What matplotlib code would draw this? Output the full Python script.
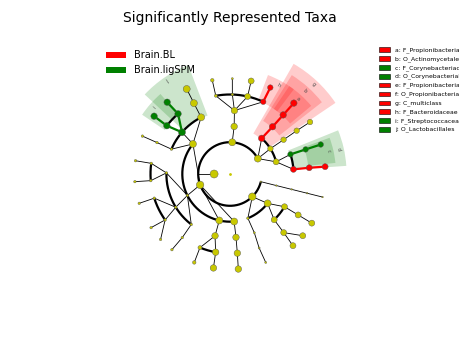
import numpy as np
import matplotlib
matplotlib.use('Agg')
import matplotlib.pyplot as plt
from matplotlib.patches import Rectangle

# cladogram nodes: parent index, taxonomic level, angle (deg), abundance (log scale), class enriched
parent = [-1,
          0, 0, 0, 0, 0,
          1, 1, 1, 2, 3, 3, 3, 3, 4, 4, 5,
          6, 6, 7, 8, 9, 10, 10, 10, 11, 11, 11, 12, 13, 14, 15, 15, 16,
          17, 18, 19, 20, 21, 21, 21, 21, 22, 23, 23, 24, 25, 25, 26, 26, 27, 28, 28, 29, 30, 31, 32, 33,
          34, 35, 36, 37, 38, 39, 40, 41, 42, 43, 44, 45, 46, 47, 48, 49, 49, 50, 51, 52, 53, 54, 55, 55, 56, 57]
level = [1] + [2] * 5 + [3] * 11 + [4] * 17 + [5] * 24 + [6] * 26
theta = [180,
         29, 86, 200, 314.5, 346,
         14.8, 32.1, 48.4, 85, 141, 206.7, 257, 275, 292, 322, 346,
         4.2, 18, 32.6, 48, 86, 117, 139, 157, 179, 211.5, 232.5, 256.4, 275.4, 292.5, 314, 329, 346,
         4.5, 18, 33, 48, 100.3, 88.3, 77.2, 65.3, 117, 130.8, 142.6, 156.7, 172.3, 184.8, 197.7, 215.3,
         233.1, 247.8, 259.6, 275.3, 291.5, 312.5, 329, 346,
         4.4, 18, 33, 48, 100.7, 88.6, 77.2, 65, 117, 131.2, 142.7, 156.6, 172, 184.6, 197.9, 214.2,
         223.3, 232.5, 248, 260, 275, 292, 311.3, 319.7, 329, 346]
abund = [8,
         7, 7, 7.5, 7.5, 1.5,
         6, 5.5, 6.5, 6.5, 7, 2.5, 7, 7, 2.5, 7, 1.5,
         6, 5.5, 5.5, 6.5, 6.5, 7, 7, 2.5, 2.5, 2.5, 2.5, 6.5, 6.5, 2, 6, 6, 1.5,
         6, 5.5, 5.5, 6.5, 3, 2.5, 6, 5.5, 7, 6.5, 6.5, 2.5, 2.5, 2.5, 2.5, 2.5, 2.5, 4, 6.5, 6.5, 2, 6, 6, 1.5,
         6, 5.5, 5.5, 6.5, 3.5, 2, 6, 5.5, 7, 6.5, 6.5, 2.5, 2.5, 2.5, 2.5, 2.5, 2.5, 2.5, 3.5, 6.5, 6.5, 2,
         6, 6, 6, 1.5]
enriched = {8: 'BL', 17: 'BL', 18: 'SPM', 20: 'BL', 23: 'SPM', 34: 'BL', 35: 'SPM', 37: 'BL',
            41: 'BL', 44: 'SPM'}

# biomarker legend (letter, clade node, name as visible) and shaded sector spans (deg)
marker_letters = ['a', 'b', 'c', 'd', 'e', 'f', 'g', 'h', 'i', 'j']
marker_nodes = [37, 20, 35, 18, 34, 17, 8, 41, 44, 23]
marker_names = ['F_Propionibacteria', 'O_Actinomycetale', 'F_Corynebacteriac',
                'O_Corynebacterial', 'F_Propionibacteria', 'O_Propionibacterial',
                'C_multiclass', 'F_Bacteroidaceae', 'F_Streptococcacea', 'O_Lactobacillales']
sector_lo = [40, 38, 6, 4, 0, 0, 34, 53, 131, 111]
sector_hi = [56, 58, 20, 22, 0, 0, 60, 69, 146, 137]

groups = ['Brain.BL', 'Brain.ligSPM']
group_colors = {'BL': '#ff0000', 'SPM': '#008000'}

STEP = 15.9
R = 140.0

fig = plt.figure(figsize=(4.6, 3.45), dpi=100)
cx, cy = 230, 345 - 174
ax = fig.add_axes([(cx - R) / 460, (cy - R) / 345, 2 * R / 460, 2 * R / 345], projection='polar')
ax.set_ylim(0, R)
ax.set_axis_off()

n = len(parent)
th = np.radians(theta)
rad = np.array(level) * STEP

# colour of every node: inherited from enriched ancestor
node_col = [None] * n
for i in range(n):
    if i in enriched:
        node_col[i] = group_colors[enriched[i]]
    elif parent[i] >= 0 and node_col[parent[i]] is not None:
        node_col[i] = node_col[parent[i]]

# shaded sectors
for k, node in enumerate(marker_nodes):
    lo, hi = sector_lo[k], sector_hi[k]
    if hi <= lo:
        continue
    lev = level[node]
    r0 = rad[node] - 1
    h = 26.5 * (6 - lev) + 1
    col = group_colors[enriched[node]]
    ax.bar(np.radians((lo + hi) / 2), h, width=np.radians(hi - lo), bottom=r0,
           color=col, alpha=0.2, linewidth=0, zorder=1)
    rl = r0 + h - 5
    ax.text(np.radians((lo + hi) / 2), rl, marker_letters[k], fontsize=3.5,
            ha='center', va='center', rotation=(lo + hi) / 2 - 90, color='#444444', zorder=5)

# sibling arcs
children = {}
for i in range(1, n):
    children.setdefault(parent[i], []).append(i)
for p, ch in children.items():
    if len(ch) < 2 or level[ch[0]] == 6:
        continue
    a = [theta[c] for c in ch]
    tt = np.radians(np.linspace(min(a), max(a), 200))
    ax.plot(tt, np.full_like(tt, rad[ch[0]]), color='k', lw=1.6, zorder=2,
            solid_capstyle='butt')

# root: radial stub out to the phylum ring
ax.plot([th[0], th[0]], [rad[0], rad[1]], color='k', lw=0.6, zorder=2)

# parent connectors
for i in range(1, n):
    p = parent[i]
    if p == 0:
        continue
    if node_col[p] is not None:
        ax.plot([th[p], th[i]], [rad[p], rad[i]], color=node_col[p], lw=1.6, zorder=2.5)
    else:
        ax.plot([th[p], th[i]], [rad[p], rad[i]], color='k', lw=0.6, zorder=2)

# nodes
face = [c if c is not None else '#c8c800' for c in node_col]
sizes = [(a * 0.72) ** 2 for a in abund]
ax.scatter(th, rad, s=sizes, c=face, edgecolors='#555555', linewidths=0.3, zorder=4)
ax.scatter([0], [0], s=1, c='#c8c800', zorder=4)

fig.text(0.5, 1 - 18 / 345, 'Significantly Represented Taxa', ha='center', va='center', fontsize=10)

# group legend
for k, (g, key) in enumerate(zip(groups, ['BL', 'SPM'])):
    yc = 345 - (55 + 15 * k)
    fig.add_artist(Rectangle((106 / 460, (yc - 3) / 345), 20 / 460, 6 / 345,
                             transform=fig.transFigure, color=group_colors[key], lw=0))
    fig.text(134 / 460, yc / 345, g, ha='left', va='center', fontsize=7)

# biomarker legend
for k in range(len(marker_letters)):
    yc = 345 - (50 + 8.85 * k)
    col = group_colors[enriched[marker_nodes[k]]]
    fig.add_artist(Rectangle((379 / 460, (yc - 2) / 345), 11 / 460, 4.5 / 345,
                             transform=fig.transFigure, facecolor=col, edgecolor='k', lw=0.4))
    fig.text(395 / 460, yc / 345, marker_letters[k] + ': ' + marker_names[k],
             ha='left', va='center', fontsize=4.4)

fig.savefig('out.png', dpi=100)
